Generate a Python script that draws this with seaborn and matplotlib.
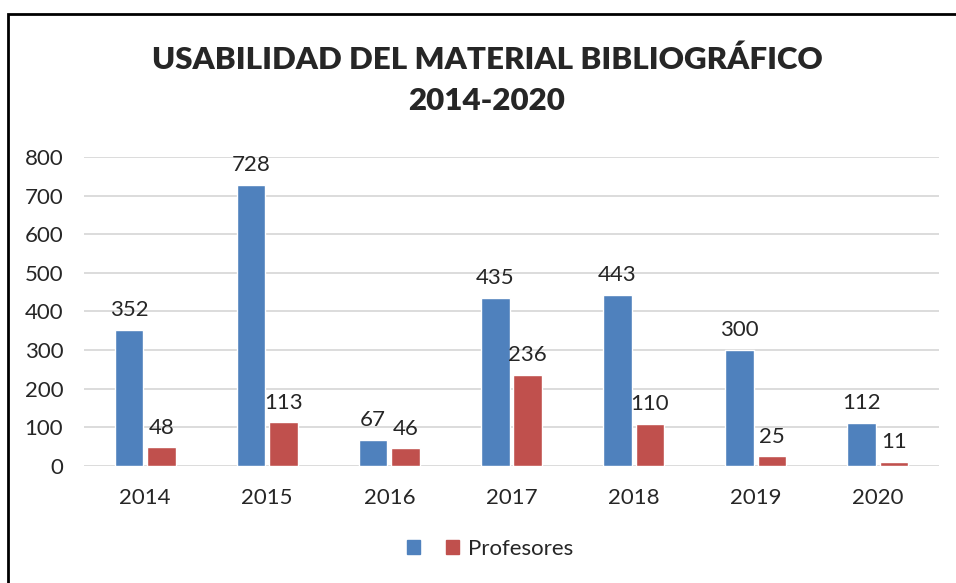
import pandas as pd
import matplotlib.pyplot as plt
import seaborn as sns
from matplotlib.patches import Patch, Rectangle

years = ['2014', '2015', '2016', '2017', '2018', '2019', '2020']
estudiantes = [352, 728, 67, 435, 443, 300, 112]
profesores = [48, 113, 46, 236, 110, 25, 11]
series_names = ['Estudiantes', 'Profesores']
legend_labels = [' ', 'Profesores']
colors = ['#4F81BD', '#C0504D']

title = 'USABILIDAD DEL MATERIAL BIBLIOGRÁFICO\n2014-2020'

df = pd.DataFrame({
    'year': years * 2,
    'value': estudiantes + profesores,
    'serie': [series_names[0]] * len(years) + [series_names[1]] * len(years),
})

sns.set_style('white')
plt.rcParams['font.family'] = ['Lato', 'DejaVu Sans']

fig = plt.figure(figsize=(9.56, 5.83), dpi=100)
ax = fig.add_axes([0.0879, 0.2007, 0.8943, 0.53])

sns.barplot(data=df, x='year', y='value', hue='serie', palette=colors,
            width=0.53, gap=0.12, saturation=1, legend=False, ax=ax)

for cont in ax.containers:
    ax.bar_label(cont, padding=7, fontsize=16)

ax.set_ylim(0, 800)
ax.set_yticks(range(0, 801, 100))
ax.yaxis.grid(True, color='#D9D9D9', linewidth=1.3)
ax.set_axisbelow(True)
for s in ax.spines.values():
    s.set_visible(False)
ax.tick_params(axis='both', length=0, labelsize=16)
ax.tick_params(axis='x', pad=16)
ax.tick_params(axis='y', pad=15)
ax.set_xlabel('')
ax.set_ylabel('')

handles = [Patch(color=c) for c in colors]
ax.legend(handles, legend_labels, loc='center', bbox_to_anchor=(490 / 956, 1 - 549 / 583),
          bbox_transform=fig.transFigure, ncol=2, frameon=False, fontsize=16,
          handlelength=0.6, handleheight=0.6, handletextpad=0.4, columnspacing=0.5)

fig.text(487 / 956, 1 - 80 / 583, title, ha='center', va='center',
         fontsize=22.5, fontweight='heavy', linespacing=1.55)

# marco del gráfico (solo visible arriba e izquierda)
fig.add_artist(Rectangle((8 / 956, -0.2), 1.5, 1 - 13.5 / 583 + 0.2,
                         transform=fig.transFigure, fill=False,
                         edgecolor='black', linewidth=2))

fig.savefig('out.png', dpi=100)
